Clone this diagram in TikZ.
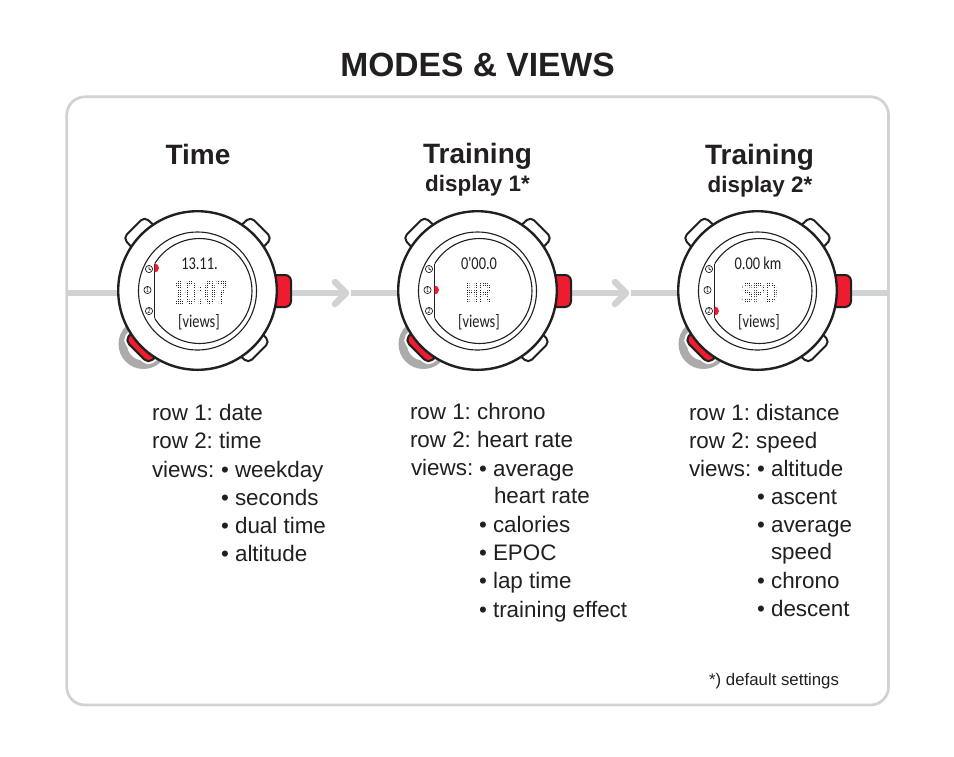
\documentclass[tikz,border=0pt]{standalone}
\usepackage{fontspec}
\setmainfont{Liberation Sans}
\newfontfamily\lcdfont[FakeStretch=0.8]{Carlito}
\newfontfamily\matrixfont[FakeStretch=0.63]{Liberation Sans}
\frenchspacing
\definecolor{suuntored}{HTML}{ED1C2E}
\definecolor{linegray}{HTML}{D1D2D3}
\definecolor{ringgray}{HTML}{ABABAB}
\definecolor{ink}{HTML}{231F20}
\tikzset{
  x=1pt,y=-1pt,
  frame/.style={draw=linegray,line width=2.7pt,rounded corners=18pt},
  flow/.style={draw=linegray,line width=6.5pt},
  chev/.style={draw=linegray,line width=6.5pt,line cap=round,line join=round},
  outline/.style={draw=ink,line width=2pt,line join=round},
  thin/.style={draw=ink,line width=1.1pt},
  body/.style={font=\fontsize{22.4}{28}\selectfont,text=ink,anchor=base west,inner sep=0pt,outer sep=0pt},
  head/.style={font=\bfseries\fontsize{28}{30}\selectfont,text=ink,anchor=base,inner sep=0pt},
  sub/.style={font=\bfseries\fontsize{22.4}{24}\selectfont,text=ink,anchor=base,inner sep=0pt},
  lcd/.style={font=\lcdfont\fontsize{18}{18}\selectfont,text=ink,anchor=center,inner sep=0pt},
  dotm/.style={font=\matrixfont\bfseries,text=ink,anchor=center,inner sep=0pt},
  mini/.style={font=\lcdfont\fontsize{8}{8}\selectfont,text=ink,inner sep=0pt},
}
% #1 x, #2 row-1 text, #3 dot text, #4 y of indicator, #5 row-1 dx, #6 dot colour, #7 dot dx
\newcommand{\watch}[7]{%
\begin{scope}[shift={(#1,0)}]
  % grey ring behind lower-left button
  \fill[ringgray] (-54,53) circle[radius=25];
  \fill[white] (-54,53) circle[radius=16.5];
  % buttons
  \foreach \a/\r in {45/90,135/90,315/87}{
    \begin{scope}[rotate=\a]
      \draw[outline,fill=white,rounded corners=5pt] (70,-16) -- (\r,-15) -- (\r,15) -- (70,16) -- cycle;
    \end{scope}}
  \begin{scope}[rotate=225]
    \draw[draw=white,line width=6pt,rounded corners=5pt] (70,-18) -- (86,-16) -- (86,16) -- (70,18) -- cycle;
    \draw[outline,fill=suuntored,rounded corners=5pt] (70,-18) -- (86,-16) -- (86,16) -- (70,18) -- cycle;
  \end{scope}
  \draw[outline,fill=suuntored] (76,-16) [rounded corners=6pt] -- (93.5,-16) -- (93.5,16) [sharp corners] -- (76,16) -- cycle;
  % case
  \draw[outline,fill=white,line width=2.4pt] (0,-.5) circle[radius=79.3];
  \draw[thin] (0,0) circle[radius=59];
  \begin{scope}
    \clip (-43,-60) rectangle (70,60);
    \draw[thin] (2,0) circle[radius=52.5];
  \end{scope}
  \draw[thin] (-43,-27) -- (-43,27);
  % mode marks
  \draw[ink,line width=.7pt,fill=white] (-48.5,-22) circle[radius=3.6];
  \draw[ink,line width=.7pt] (-48.5,-24.5) -- (-48.5,-22) -- (-46.5,-21);
  \draw[ink,line width=.7pt,fill=white] (-50,-1) circle[radius=3.6];
  \node[mini] at (-50,-1) {1};
  \draw[ink,line width=.7pt,fill=white] (-48.5,20) circle[radius=3.6];
  \node[mini] at (-48.5,20) {2};
  \fill[suuntored] (-43,#4+4.5) arc[start angle=90,end angle=-90,radius=4.5] -- cycle;
  % texts
  \node[lcd] at (#5,-27.5) {#2};
  \node[dotm,text=#6] at (#7,1.5) {#3};
  \foreach \k in {-14,-12.2,...,17}{\fill[white] (-38,\k-.23) rectangle (38,\k+.23);}
  \foreach \k in {-38,-36.2,...,38}{\fill[white] (\k-.23,-14) rectangle (\k+.23,17);}
  \node[lcd] at (1.5,31) {[views]};
\end{scope}}
\begin{document}
\begin{tikzpicture}
\useasboundingbox (0,0) rectangle (954,756);
\fill[white] (0,0) rectangle (954,756);
\draw[frame] (66.8,96.8) rectangle (888.5,705);
\node[font=\bfseries\fontsize{33.6}{36}\selectfont,text=ink,anchor=base,inner sep=0pt] (title) at (477.5,76) {MODES \& VIEWS};
% flow
\draw[flow] (67,293) -- (346,293);
\draw[flow] (351,293) -- (626,293);
\draw[flow] (631,293) -- (888,293);
\draw[chev] (335,282) -- (346,293) -- (335,304);
\draw[chev] (615,282) -- (626,293) -- (615,304);
\begin{scope}[shift={(0,291)}]
\watch{197.5}{13.11.}{\fontsize{34}{34}\selectfont 10:07}{-23}{2}{ink}{3}
\watch{477.5}{0'00.0}{\fontsize{28}{28}\selectfont HR}{-1}{1.5}{ink}{1}
\watch{757.5}{0.00 km}{\fontsize{28}{28}\selectfont SPD}{20}{.5}{ink}{2}
\end{scope}
\node[head] at (198,164) {Time};
\node[head] at (477.5,163) {Training};
\node[sub] at (477.5,191) {display 1*};
\node[head] at (759.5,164) {Training};
\node[sub] at (760,192) {display 2*};
% column 1
\node[body] at (152,420) {row 1: date};
\node[body] at (152,448) {row 2: time};
\node[body] at (152,477) {views:};
\node[body] at (221,477) {• weekday};
\node[body] at (221,505) {• seconds};
\node[body] at (221,533) {• dual time};
\node[body] at (221,561) {• altitude};
% column 2
\node[body] at (410,419) {row 1: chrono};
\node[body] at (410,447) {row 2: heart rate};
\node[body] at (411,475) {views:};
\node[body] at (479,476) {• average};
\node[body] at (494,503) {heart rate};
\node[body] at (479,532) {• calories};
\node[body] at (479,560) {• EPOC};
\node[body] at (479,588) {• lap time};
\node[body] at (479,617) {• training effect};
% column 3
\node[body] at (689,420) {row 1: distance};
\node[body] at (689,448) {row 2: speed};
\node[body] at (689,476) {views:};
\node[body] at (757,476) {• altitude};
\node[body] at (757,504) {• ascent};
\node[body] at (757,532) {• average};
\node[body] at (771,559) {speed};
\node[body] at (757,588) {• chrono};
\node[body] at (757,616) {• descent};
\node[font=\fontsize{16.8}{18}\selectfont,text=ink,anchor=base west,inner sep=0pt] at (709,685) {*) default settings};
\end{tikzpicture}
\end{document}
